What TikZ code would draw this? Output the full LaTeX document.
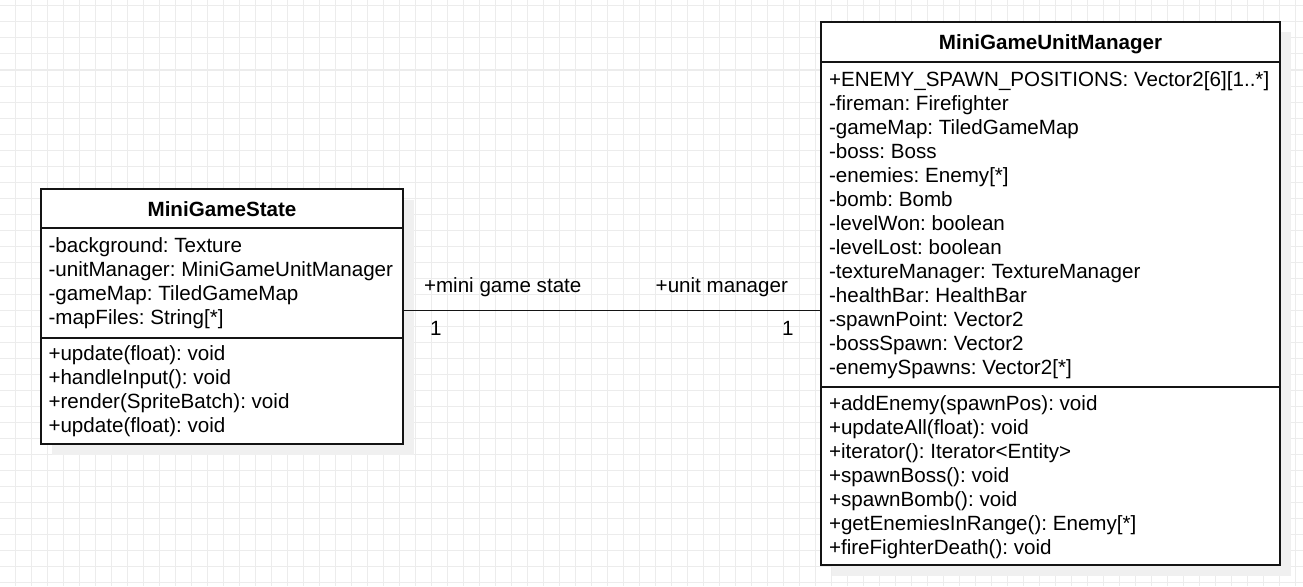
\documentclass[tikz,border=0pt]{standalone}
\usepackage{fontspec}
\setmainfont{Liberation Sans}
\frenchspacing
\definecolor{gridc}{RGB}{236,236,236}
\definecolor{shadowc}{RGB}{240,240,240}
\definecolor{linec}{RGB}{20,20,20}
\begin{document}
\frenchspacing
\begin{tikzpicture}[x=1pt,y=-1pt,
  txt/.style={inner sep=0pt, outer sep=0pt, font=\fontsize{20.6}{24}\selectfont\frenchspacing, text=black},
  headtxt/.style={txt, font=\fontsize{20.6}{24}\selectfont\bfseries, anchor=base},
  classbox/.style={draw=linec, line width=1.5pt, fill=white, inner sep=0pt, outer sep=0pt, anchor=north west},
  shadowbox/.style={fill=shadowc, draw=none, inner sep=0pt, outer sep=0pt, anchor=north west},
  sepline/.style={draw=linec, line width=1.5pt},
  assoc/.style={draw=linec, line width=1.5pt}]
\useasboundingbox (0,0) rectangle (1303,586);
\fill[white] (0,0) rectangle (1303,586);
% grid
\foreach \x in {15.5,31.5,...,1303} \draw[gridc, line width=1pt] (\x,0) -- (\x,586);
\foreach \y in {6,22,...,586} \draw[gridc, line width=1pt] (0,\y) -- (1303,\y);
% shadows
\node[shadowbox, minimum width=362pt, minimum height=255pt] (mssh) at (51.5,199.5) {};
\node[shadowbox, minimum width=459pt, minimum height=543pt] (umsh) at (831.5,32.5) {};
% class boxes
\node[classbox, minimum width=362pt, minimum height=255pt] (ms) at (41,189) {};
\node[classbox, minimum width=459pt, minimum height=543pt] (um) at (821,22) {};
% separators
\coordinate (ms1) at (0,228);
\coordinate (ms2) at (0,338);
\coordinate (um1) at (0,62);
\coordinate (um2) at (0,387);
\draw[sepline] (ms.west |- ms1) -- (ms.east |- ms1);
\draw[sepline] (ms.west |- ms2) -- (ms.east |- ms2);
\draw[sepline] (um.west |- um1) -- (um.east |- um1);
\draw[sepline] (um.west |- um2) -- (um.east |- um2);
% headers
\node[headtxt] (msh) at (222,216) {MiniGameState};
\node[headtxt] (umh) at (1050.5,49.5) {MiniGameUnitManager};
% MiniGameState attributes
\foreach \t [count=\i] in {-background: Texture,-unitManager: MiniGameUnitManager,-gameMap: TiledGameMap,-mapFiles: String[*]}
  \node[txt, anchor=base west] (msa\i) at (48.5,{252+24*(\i-1)}) {\t};
% MiniGameState methods
\foreach \t [count=\i] in {+update(float): void,+handleInput(): void,+render(SpriteBatch): void,+update(float): void}
  \node[txt, anchor=base west] (msm\i) at (48.5,{360+24*(\i-1)}) {\t};
% MiniGameUnitManager attributes
\foreach \t [count=\i] in {+ENEMY\_SPAWN\_POSITIONS: Vector2[6][1..*],-fireman: Firefighter,-gameMap: TiledGameMap,-boss: Boss,-enemies: Enemy[*],-bomb: Bomb,-levelWon: boolean,-levelLost: boolean,-textureManager: TextureManager,-healthBar: HealthBar,-spawnPoint: Vector2,-bossSpawn: Vector2,-enemySpawns: Vector2[*]}
  \node[txt, anchor=base west] (uma\i) at (829,{86+24*(\i-1)}) {\t};
% MiniGameUnitManager methods
\foreach \t [count=\i] in {+addEnemy(spawnPos): void,+updateAll(float): void,+iterator(): Iterator<Entity>,+spawnBoss(): void,+spawnBomb(): void,+getEnemiesInRange(): Enemy[*],+fireFighterDeath(): void}
  \node[txt, anchor=base west] (umm\i) at (829,{410+24*(\i-1)}) {\t};
% association
\coordinate (cl) at (0,310.3);
\draw[assoc] (ms.east |- cl) -- (um.west |- cl);
\node[txt, anchor=base west] (rolel) at (424,292) {+mini game state};
\node[txt, anchor=base east] (roler) at (788,292) {+unit manager};
\node[txt, anchor=base west] (multl) at (430,335) {1};
\node[txt, anchor=base east] (multr) at (793.5,335) {1};
\end{tikzpicture}
\end{document}
